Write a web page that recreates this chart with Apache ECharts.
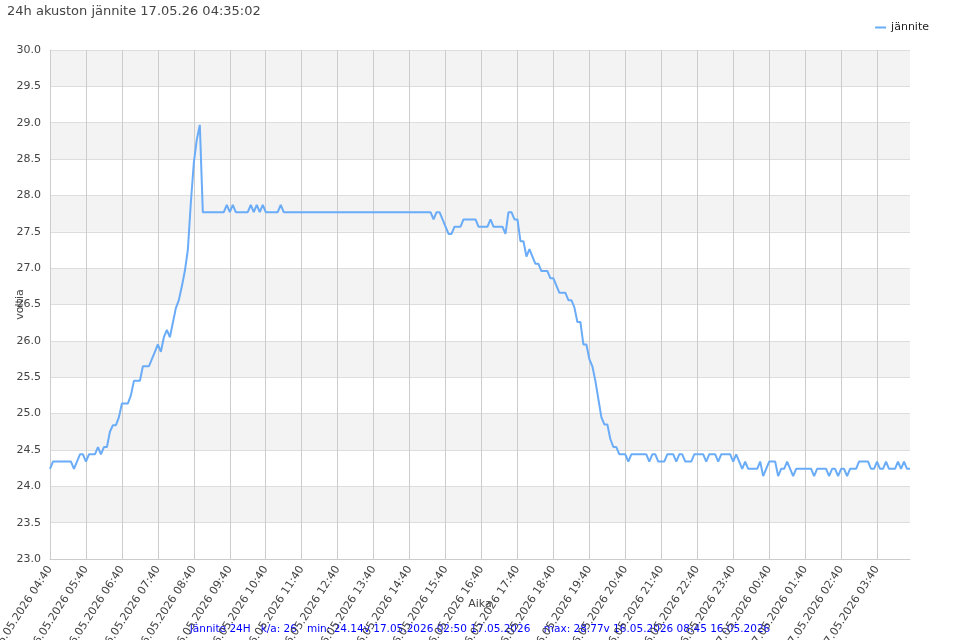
<!DOCTYPE html>
<html><head><meta charset="utf-8">
<script src="https://cdn.jsdelivr.net/npm/echarts@6/dist/echarts.min.js"></script>
<style>html,body{margin:0;padding:0;background:#fff}#c{width:960px;height:640px}</style>
</head><body><div id="c"></div>
<script>
const titleText = '24h akuston jännite 17.05.26 04:35:02';
const seriesName = 'jännite';
const xAxisName = 'Aika';
const yAxisName = 'voltia';
const footerText = 'Jännite 24H   k/a: 26   min: 24.14v 17.05.2026 02:50 17.05.2026    max: 28.77v 16.05.2026 08:45 16.05.2026';
const yMin = 23.0, yMax = 30.0, yStep = 0.5;
// one reading every 5 minutes, 16.05.2026 04:40 -> 17.05.2026 04:35
const startDay = 16, startMonth = '05', startYear = '2026', startMinutes = 4 * 60 + 40, stepMinutes = 5;
const voltage = [
  24.24, 24.34, 24.34, 24.34, 24.34, 24.34, 24.34, 24.34, 24.24, 24.34, 24.44, 24.44,
  24.34, 24.44, 24.44, 24.44, 24.54, 24.44, 24.54, 24.54, 24.75, 24.84, 24.84, 24.95,
  25.14, 25.14, 25.14, 25.25, 25.45, 25.45, 25.45, 25.65, 25.65, 25.65, 25.75, 25.85,
  25.95, 25.85, 26.05, 26.15, 26.05, 26.25, 26.45, 26.56, 26.75, 26.96, 27.25, 27.90,
  28.45, 28.77, 28.97, 27.77, 27.77, 27.77, 27.77, 27.77, 27.77, 27.77, 27.77, 27.87,
  27.77, 27.87, 27.77, 27.77, 27.77, 27.77, 27.77, 27.87, 27.77, 27.87, 27.77, 27.87,
  27.77, 27.77, 27.77, 27.77, 27.77, 27.87, 27.77, 27.77, 27.77, 27.77, 27.77, 27.77,
  27.77, 27.77, 27.77, 27.77, 27.77, 27.77, 27.77, 27.77, 27.77, 27.77, 27.77, 27.77,
  27.77, 27.77, 27.77, 27.77, 27.77, 27.77, 27.77, 27.77, 27.77, 27.77, 27.77, 27.77,
  27.77, 27.77, 27.77, 27.77, 27.77, 27.77, 27.77, 27.77, 27.77, 27.77, 27.77, 27.77,
  27.77, 27.77, 27.77, 27.77, 27.77, 27.77, 27.77, 27.77, 27.67, 27.77, 27.77, 27.67,
  27.57, 27.47, 27.47, 27.57, 27.57, 27.57, 27.67, 27.67, 27.67, 27.67, 27.67, 27.57,
  27.57, 27.57, 27.57, 27.67, 27.57, 27.57, 27.57, 27.57, 27.47, 27.77, 27.77, 27.67,
  27.67, 27.37, 27.37, 27.16, 27.26, 27.16, 27.06, 27.06, 26.96, 26.96, 26.96, 26.86,
  26.86, 26.76, 26.66, 26.66, 26.66, 26.56, 26.56, 26.46, 26.26, 26.26, 25.95, 25.95,
  25.75, 25.65, 25.45, 25.20, 24.95, 24.85, 24.85, 24.65, 24.54, 24.54, 24.44, 24.44,
  24.44, 24.34, 24.44, 24.44, 24.44, 24.44, 24.44, 24.44, 24.34, 24.44, 24.44, 24.34,
  24.34, 24.34, 24.44, 24.44, 24.44, 24.34, 24.44, 24.44, 24.34, 24.34, 24.34, 24.44,
  24.44, 24.44, 24.44, 24.34, 24.44, 24.44, 24.44, 24.34, 24.44, 24.44, 24.44, 24.44,
  24.34, 24.44, 24.34, 24.24, 24.34, 24.24, 24.24, 24.24, 24.24, 24.34, 24.14, 24.24,
  24.34, 24.34, 24.34, 24.14, 24.24, 24.24, 24.34, 24.24, 24.14, 24.24, 24.24, 24.24,
  24.24, 24.24, 24.24, 24.14, 24.24, 24.24, 24.24, 24.24, 24.14, 24.24, 24.24, 24.14,
  24.24, 24.24, 24.14, 24.24, 24.24, 24.24, 24.34, 24.34, 24.34, 24.34, 24.24, 24.24,
  24.34, 24.24, 24.24, 24.34, 24.24, 24.24, 24.24, 24.34, 24.24, 24.34, 24.24, 24.24
];
const pad = n => (n < 10 ? '0' : '') + n;
const timeLabels = [];
for (let i = 0; i < voltage.length; i++) {
  const m = startMinutes + i * stepMinutes;
  const d = startDay + Math.floor(m / 1440);
  const mm = m % 1440;
  timeLabels.push(pad(d) + '.' + startMonth + '.' + startYear + ' ' + pad(Math.floor(mm / 60)) + ':' + pad(mm % 60));
}

const chart = echarts.init(document.getElementById('c'), null, { renderer: 'canvas' });
const fam = 'DejaVu Sans, sans-serif';
chart.setOption({
  animation: false,
  backgroundColor: '#ffffff',
  textStyle: { fontFamily: fam },
  title: { text: titleText, left: 2, top: 0, textStyle: { fontSize: 13, fontWeight: 'normal', color: '#444', fontFamily: fam } },
  legend: {
    data: [seriesName], right: 26, top: 17, icon: 'rect', itemWidth: 11, itemHeight: 2, itemGap: 8,
    textStyle: { fontSize: 11, color: '#222', fontFamily: fam }
  },
  grid: { left: 50, right: 50, top: 50, bottom: 81, containLabel: false, outerBoundsMode: 'none' },
  xAxis: {
    type: 'category', data: timeLabels, boundaryGap: false,
    name: xAxisName, nameLocation: 'middle', nameGap: 40, nameMoveOverlap: false,
    nameTextStyle: { fontSize: 11, color: '#444', fontFamily: fam },
    axisLine: { lineStyle: { color: '#ccc' } },
    axisTick: { show: false },
    axisLabel: { interval: 11, rotate: 57, fontSize: 11, color: '#444', margin: 8, fontFamily: fam },
    splitLine: { show: true, interval: 11, lineStyle: { color: '#ccc' } }
  },
  yAxis: {
    type: 'value', min: yMin, max: yMax, interval: yStep,
    name: yAxisName, nameLocation: 'middle', nameGap: 24, nameMoveOverlap: false,
    nameTextStyle: { fontSize: 11, color: '#444', fontFamily: fam },
    axisLine: { show: true, lineStyle: { color: '#ccc' } },
    axisTick: { show: false },
    axisLabel: { formatter: v => v.toFixed(1), fontSize: 11, color: '#444', margin: 9, fontFamily: fam },
    splitLine: { lineStyle: { color: '#ddd' } },
    splitArea: { show: true, areaStyle: { color: ['#ffffff', '#f3f3f3'] } }
  },
  graphic: [{
    type: 'text', left: 'center', top: 624,
    style: { text: footerText, fill: '#0000ff', font: '10.5px ' + fam }
  }],
  series: [{
    name: seriesName, type: 'line', data: voltage, showSymbol: false, symbol: 'none',
    lineStyle: { width: 2, color: '#6aacf7' }, itemStyle: { color: '#6aacf7' }
  }]
});
</script></body></html>
